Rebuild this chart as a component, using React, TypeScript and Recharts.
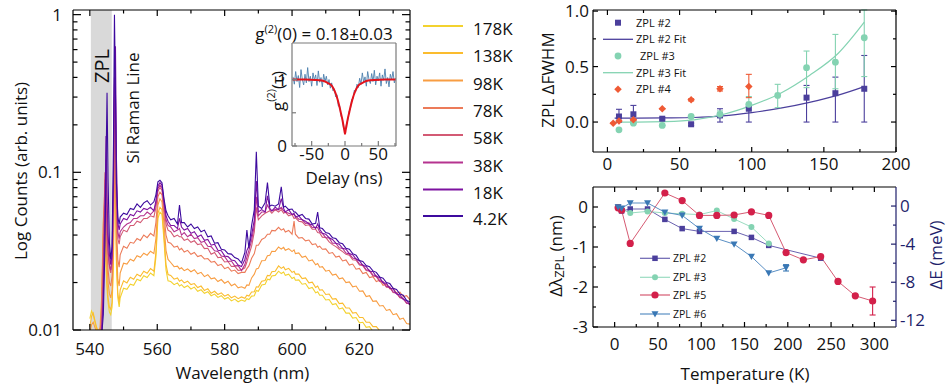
import React from "react";
import {
  ComposedChart,
  Line,
  XAxis,
  YAxis,
  ReferenceArea,
  Scatter,
  ErrorBar,
} from "recharts";

const FONT = '"Open Sans", "DejaVu Sans", Arial, sans-serif';

// ---------- left panel: PL spectra ----------
const WL = [
  540, 540.5, 541, 541.5, 542, 542.5, 543, 543.5, 544, 544.5, 544.8, 545.1, 545.4, 545.8, 546.2, 546.6, 547, 547.3, 547.6, 547.9, 548.3, 548.7,
  549, 550, 551, 552, 553, 554, 555, 556, 557, 558, 559,
  559.6, 560.2, 560.8, 561.4, 562, 562.6, 563.2,
  564, 565, 566, 566.6, 567.2,
  568, 569, 570, 571, 572, 573, 574, 575, 576, 577,
  578, 579, 580, 581, 582, 583, 584, 585, 586,
  586.6, 587.2, 588, 588.8, 589.4, 590, 591, 592, 592.7, 593.4,
  594, 595, 596, 596.8, 597.5, 598, 599, 600, 600.6,
  601, 602, 603, 604, 605, 606, 607, 607.6, 608.2,
  609, 610, 611, 612, 613, 614, 615, 616, 617, 618,
  619, 620, 621, 622, 623, 624, 625, 626, 627, 628,
  629, 630, 631, 632, 633, 634, 635,
];

const C4 = [
  0.0072, 0.0078, 0.0075, 0.0081, 0.0079, 0.0083, 0.0086, 0.0092, 0.0125, 0.035, 0.11, 0.32, 0.09, 0.036, 0.028, 0.034, 0.15, 1.0, 0.32, 0.085, 0.052, 0.047,
  0.052, 0.055, 0.054, 0.059, 0.058, 0.063, 0.06, 0.064, 0.066, 0.062, 0.065,
  0.072, 0.087, 0.089, 0.086, 0.068, 0.057, 0.053,
  0.05, 0.051, 0.047, 0.062, 0.048,
  0.048, 0.045, 0.047, 0.044, 0.045, 0.042, 0.043, 0.039, 0.0395, 0.0355,
  0.0358, 0.0325, 0.0322, 0.0305, 0.0303, 0.0288, 0.0282, 0.0266, 0.031,
  0.043, 0.033, 0.046, 0.058, 0.135, 0.061, 0.059, 0.064, 0.086, 0.061,
  0.062, 0.061, 0.063, 0.081, 0.06, 0.061, 0.058, 0.0585, 0.056,
  0.056, 0.053, 0.054, 0.051, 0.0505, 0.047, 0.0475, 0.056, 0.0445,
  0.044, 0.0415, 0.041, 0.0385, 0.038, 0.0358, 0.0352, 0.033, 0.0325, 0.0305,
  0.0298, 0.0276, 0.0272, 0.0256, 0.0252, 0.0237, 0.0232, 0.0217, 0.0213, 0.02,
  0.0197, 0.0184, 0.0181, 0.0169, 0.0166, 0.0154, 0.0151,
];

const C18 = [
  0.007, 0.0074, 0.0079, 0.0076, 0.0082, 0.008, 0.0088, 0.0095, 0.016, 0.06, 0.17, 0.07, 0.04, 0.03, 0.026, 0.03, 0.09, 0.35, 0.63, 0.12, 0.048, 0.043,
  0.047, 0.051, 0.05, 0.054, 0.053, 0.057, 0.056, 0.059, 0.058, 0.06, 0.057,
  0.066, 0.082, 0.086, 0.083, 0.066, 0.053, 0.049,
  0.046, 0.046, 0.044, 0.051, 0.045,
  0.043, 0.044, 0.041, 0.042, 0.039, 0.04, 0.037, 0.0375, 0.0345, 0.035,
  0.032, 0.0318, 0.0295, 0.0292, 0.0278, 0.0275, 0.0258, 0.0253, 0.028,
  0.032, 0.034, 0.04, 0.05, 0.088, 0.056, 0.058, 0.056, 0.071, 0.059,
  0.057, 0.06, 0.058, 0.068, 0.059, 0.056, 0.058, 0.054, 0.055,
  0.052, 0.053, 0.05, 0.049, 0.047, 0.0465, 0.044, 0.047, 0.0435,
  0.041, 0.0405, 0.0385, 0.0375, 0.0355, 0.035, 0.033, 0.0325, 0.0305, 0.03,
  0.0282, 0.0275, 0.0257, 0.0253, 0.0236, 0.0235, 0.0218, 0.0215, 0.0199, 0.0198,
  0.0184, 0.0182, 0.0169, 0.0167, 0.0156, 0.0154, 0.0144,
];

const C38 = [
  0.0068, 0.0073, 0.0071, 0.0077, 0.0075, 0.0081, 0.0085, 0.0093, 0.02, 0.07, 0.12, 0.05, 0.032, 0.026, 0.024, 0.028, 0.07, 0.4, 0.3, 0.07, 0.042, 0.038,
  0.042, 0.045, 0.047, 0.048, 0.051, 0.051, 0.053, 0.053, 0.056, 0.054, 0.057,
  0.063, 0.079, 0.083, 0.08, 0.063, 0.05, 0.046,
  0.045, 0.042, 0.043, 0.044, 0.04,
  0.0415, 0.039, 0.0405, 0.038, 0.0385, 0.036, 0.0365, 0.034, 0.0338, 0.0318,
  0.0315, 0.0295, 0.0292, 0.0272, 0.0274, 0.0255, 0.0256, 0.0238, 0.026,
  0.029, 0.032, 0.037, 0.046, 0.07, 0.053, 0.056, 0.056, 0.062, 0.058,
  0.057, 0.058, 0.058, 0.06, 0.057, 0.056, 0.055, 0.054, 0.054,
  0.053, 0.0505, 0.0502, 0.0475, 0.0478, 0.0445, 0.0448, 0.0445, 0.0418,
  0.041, 0.0385, 0.0384, 0.0355, 0.0355, 0.0332, 0.0329, 0.0308, 0.0304, 0.0286,
  0.0282, 0.0262, 0.0259, 0.0241, 0.0239, 0.0223, 0.0221, 0.0205, 0.0203, 0.0189,
  0.0188, 0.0174, 0.0172, 0.0161, 0.0159, 0.0148, 0.0146,
];

const C58 = [
  0.0069, 0.0071, 0.0076, 0.0074, 0.0078, 0.0082, 0.0088, 0.011, 0.03, 0.1, 0.07, 0.04, 0.03, 0.025, 0.023, 0.027, 0.06, 0.3, 0.22, 0.06, 0.038, 0.035,
  0.039, 0.043, 0.042, 0.046, 0.046, 0.049, 0.048, 0.051, 0.051, 0.053, 0.052,
  0.06, 0.076, 0.08, 0.077, 0.06, 0.047, 0.043,
  0.042, 0.039, 0.04, 0.039, 0.039,
  0.037, 0.0378, 0.036, 0.0368, 0.0348, 0.0352, 0.0328, 0.033, 0.0302, 0.031,
  0.0288, 0.0289, 0.027, 0.0272, 0.0253, 0.0254, 0.0239, 0.024, 0.0248,
  0.027, 0.03, 0.034, 0.042, 0.06, 0.05, 0.053, 0.055, 0.056, 0.057,
  0.055, 0.058, 0.056, 0.058, 0.055, 0.056, 0.053, 0.054, 0.051,
  0.0515, 0.049, 0.0485, 0.046, 0.0465, 0.0435, 0.0435, 0.0415, 0.0412,
  0.0388, 0.0386, 0.0362, 0.0348, 0.0338, 0.0325, 0.0314, 0.0302, 0.0298, 0.0279,
  0.0277, 0.0258, 0.0256, 0.0238, 0.0236, 0.022, 0.0218, 0.0203, 0.0201, 0.0187,
  0.0186, 0.0173, 0.0171, 0.016, 0.0158, 0.0148, 0.0146,
];

const C78 = [
  0.0082, 0.0088, 0.0086, 0.0083, 0.0079, 0.0084, 0.009, 0.014, 0.045, 0.09, 0.05, 0.03, 0.024, 0.02, 0.019, 0.022, 0.05, 0.2, 0.15, 0.045, 0.028, 0.025,
  0.03, 0.034, 0.033, 0.036, 0.0355, 0.038, 0.037, 0.04, 0.0385, 0.041, 0.0395,
  0.048, 0.07, 0.075, 0.072, 0.054, 0.04, 0.036,
  0.0355, 0.0335, 0.034, 0.0322, 0.033,
  0.0312, 0.032, 0.0302, 0.031, 0.0292, 0.0297, 0.0282, 0.0284, 0.0269, 0.0272,
  0.0256, 0.0261, 0.0245, 0.025, 0.0236, 0.024, 0.0228, 0.0232, 0.0232,
  0.0245, 0.0255, 0.0285, 0.0305, 0.0345, 0.0345, 0.0375, 0.0385, 0.0405, 0.0405,
  0.0428, 0.0425, 0.0448, 0.043, 0.0438, 0.0418, 0.0428, 0.0405, 0.049,
  0.0405, 0.0383, 0.0386, 0.0368, 0.0372, 0.0348, 0.0352, 0.0335, 0.034,
  0.0325, 0.0327, 0.0306, 0.031, 0.029, 0.0294, 0.0274, 0.0278, 0.0258, 0.0262,
  0.0243, 0.0246, 0.0228, 0.0232, 0.0215, 0.0218, 0.0203, 0.0207, 0.0192, 0.0196,
  0.0182, 0.0184, 0.0171, 0.0174, 0.0163, 0.0165, 0.0155,
];

const C98 = [
  0.0095, 0.0108, 0.0112, 0.0104, 0.0097, 0.0099, 0.0103, 0.016, 0.05, 0.07, 0.04, 0.026, 0.02, 0.017, 0.016, 0.018, 0.04, 0.15, 0.11, 0.035, 0.021, 0.019,
  0.023, 0.0265, 0.0262, 0.0281, 0.0274, 0.0296, 0.0289, 0.0307, 0.0298, 0.0316, 0.0305,
  0.038, 0.062, 0.068, 0.065, 0.047, 0.032, 0.028,
  0.0268, 0.0252, 0.0254, 0.0244, 0.0248,
  0.0238, 0.0244, 0.0234, 0.0241, 0.0227, 0.0232, 0.0218, 0.0224, 0.0211, 0.0214,
  0.0203, 0.0209, 0.0198, 0.0204, 0.0191, 0.0196, 0.0185, 0.0188, 0.0184,
  0.0193, 0.0192, 0.0214, 0.0226, 0.0244, 0.0246, 0.0275, 0.0276, 0.0296, 0.0298,
  0.0316, 0.0315, 0.0336, 0.0326, 0.0334, 0.032, 0.0328, 0.0314, 0.0322,
  0.0305, 0.0308, 0.0289, 0.0294, 0.0274, 0.0278, 0.0259, 0.0264, 0.025,
  0.0252, 0.0236, 0.0239, 0.0223, 0.0226, 0.0211, 0.0214, 0.02, 0.0202, 0.0188,
  0.019, 0.0176, 0.0177, 0.0163, 0.0165, 0.0152, 0.0153, 0.0142, 0.0143, 0.0133,
  0.0135, 0.0125, 0.0127, 0.0117, 0.0119, 0.011, 0.0109,
];

const C138 = [
  0.0105, 0.0122, 0.0128, 0.0115, 0.0104, 0.0098, 0.0096, 0.013, 0.04, 0.05, 0.03, 0.02, 0.016, 0.014, 0.0135, 0.015, 0.03, 0.12, 0.09, 0.028, 0.017, 0.015,
  0.018, 0.0205, 0.0199, 0.0216, 0.021, 0.0226, 0.0219, 0.0236, 0.0229, 0.0245, 0.0236,
  0.031, 0.055, 0.06, 0.058, 0.04, 0.026, 0.0225,
  0.0222, 0.021, 0.0214, 0.0204, 0.0208,
  0.0199, 0.0204, 0.0194, 0.0197, 0.0186, 0.019, 0.0178, 0.0183, 0.0171, 0.0176,
  0.0168, 0.0172, 0.0164, 0.0168, 0.016, 0.0164, 0.0158, 0.0162, 0.0159,
  0.0166, 0.0164, 0.0174, 0.0175, 0.0188, 0.0187, 0.0204, 0.0206, 0.0222, 0.0221,
  0.0234, 0.0236, 0.0255, 0.0246, 0.0252, 0.0241, 0.0246, 0.0232, 0.0236,
  0.0226, 0.0226, 0.0212, 0.0214, 0.0199, 0.0201, 0.0186, 0.019, 0.0179,
  0.018, 0.0168, 0.0169, 0.0157, 0.0158, 0.0147, 0.0148, 0.0138, 0.0138, 0.0128,
  0.0129, 0.012, 0.012, 0.0112, 0.0112, 0.0105, 0.0105, 0.0099, 0.0098, 0.0093,
  0.0092, 0.0087, 0.0087, 0.0083, 0.0082, 0.0079, 0.0078,
];

const C178 = [
  0.0118, 0.0132, 0.0125, 0.0112, 0.0101, 0.0094, 0.0091, 0.011, 0.032, 0.04, 0.025, 0.018, 0.015, 0.013, 0.0125, 0.014, 0.026, 0.1, 0.08, 0.025, 0.016, 0.014,
  0.016, 0.0184, 0.0181, 0.0195, 0.0192, 0.021, 0.0205, 0.0221, 0.0215, 0.023, 0.0221,
  0.029, 0.051, 0.056, 0.054, 0.037, 0.024, 0.0205,
  0.0203, 0.0194, 0.0199, 0.019, 0.0194,
  0.0186, 0.0191, 0.0182, 0.0187, 0.0176, 0.018, 0.0171, 0.0175, 0.0165, 0.0169,
  0.0161, 0.0165, 0.0157, 0.0161, 0.0153, 0.0157, 0.0151, 0.0155, 0.0152,
  0.0158, 0.0156, 0.0164, 0.0165, 0.0178, 0.0176, 0.0193, 0.0195, 0.021, 0.0208,
  0.022, 0.0222, 0.0236, 0.0228, 0.0233, 0.0222, 0.0226, 0.0212, 0.0216,
  0.0207, 0.0208, 0.0195, 0.0197, 0.0183, 0.0186, 0.0172, 0.0175, 0.0166,
  0.0166, 0.0155, 0.0156, 0.0145, 0.0147, 0.0136, 0.0138, 0.0128, 0.0128, 0.0119,
  0.012, 0.0111, 0.0112, 0.0104, 0.0105, 0.0098, 0.0098, 0.0092, 0.0093, 0.0087,
  0.0088, 0.0083, 0.0083, 0.0079, 0.0079, 0.0075, 0.0075,
];

const SERIES = [
  { key: "k178", name: "178K", color: "#f3d22f", values: C178 },
  { key: "k138", name: "138K", color: "#fbbc2e", values: C138 },
  { key: "k98", name: "98K", color: "#f89d42", values: C98 },
  { key: "k78", name: "78K", color: "#ec7b59", values: C78 },
  { key: "k58", name: "58K", color: "#d35a74", values: C58 },
  { key: "k38", name: "38K", color: "#b5338f", values: C38 },
  { key: "k18", name: "18K", color: "#7d12a0", values: C18 },
  { key: "k4", name: "4.2K", color: "#3d0a9e", values: C4 },
];

const specRows = WL.map((w, i) => {
  const row: any = { wl: w };
  SERIES.forEach((s) => (row[s.key] = s.values[i]));
  return row;
});

const WL_TICKS = [540, 550, 560, 570, 580, 590, 600, 610, 620, 630];
const WL_LABELS = [540, 560, 580, 600, 620];
const LOG_TICKS = [0.01, 0.02, 0.03, 0.04, 0.05, 0.06, 0.07, 0.08, 0.09, 0.1, 0.2, 0.3, 0.4, 0.5, 0.6, 0.7, 0.8, 0.9, 1];
const LOG_LABELS = [0.01, 0.1, 1];

// ---------- inset: g2 ----------
const DELAY = [
  -78, -76, -74, -72, -70, -68, -66, -64, -62, -60,
  -58, -56, -54, -52, -50, -48, -46, -44, -42, -40,
  -38, -36, -34, -32, -30, -28, -26, -24, -22, -20,
  -18, -16, -14, -12, -10, -8, -6, -4, -2, 0,
  2, 4, 6, 8, 10, 12, 14, 16, 18, 20,
  22, 24, 26, 28, 30, 32, 34, 36, 38, 40,
  42, 44, 46, 48, 50, 52, 54, 56, 58, 60,
  62, 64, 66, 68, 70, 72, 74, 76,
];
const G2 = [
  1.04, 0.93, 1.12, 0.97, 1.06, 0.88, 1.15, 1.0, 0.92, 1.08,
  0.95, 1.18, 0.97, 1.05, 0.9, 1.1, 0.99, 1.07, 0.91, 1.13,
  0.96, 1.03, 0.89, 1.08, 0.97, 1.05, 0.92, 1.0, 0.87, 0.95,
  0.83, 0.86, 0.74, 0.77, 0.6, 0.6, 0.45, 0.41, 0.27, 0.2,
  0.32, 0.38, 0.52, 0.55, 0.7, 0.71, 0.84, 0.82, 0.93, 0.88,
  1.02, 0.93, 1.1, 0.96, 1.04, 0.9, 1.12, 1.0, 0.94, 1.09,
  0.97, 1.14, 0.92, 1.05, 0.98, 1.1, 0.9, 1.07, 0.99, 1.16,
  0.94, 1.03, 0.89, 1.08, 1.0, 1.12, 0.95, 1.02,
];
const FIT_T = [-79, -60, -45, -35, -28, -24, -20, -17, -14, -12, -10, -8, -6, -4, -2, -1, 0, 1, 2, 4, 6, 8, 10, 12, 14, 17, 20, 24, 28, 35, 45, 60, 76];
const FIT_G = [1.0, 1.0, 0.995, 0.985, 0.96, 0.94, 0.91, 0.86, 0.79, 0.73, 0.66, 0.58, 0.49, 0.4, 0.29, 0.24, 0.18, 0.24, 0.29, 0.4, 0.49, 0.58, 0.66, 0.73, 0.79, 0.86, 0.91, 0.94, 0.96, 0.985, 0.995, 1.0, 1.0];

const g2Rows = DELAY.map((x, i) => ({ x, y: G2[i] }));
const fitRows = FIT_T.map((x, i) => ({ x, y: FIT_G[i] }));

// ---------- top right: FWHM ----------
const T_FW2 = [8, 18, 38, 58, 78, 98, 138, 158, 178];
const FW2 = [0.05, 0.07, 0.03, -0.02, 0.06, 0.12, 0.22, 0.26, 0.3];
const FW2_ERR = [[0.05, 0.065], [0.06, 0.08], [0.01, 0.01], [0.01, 0.01], [0.06, 0.06], [0.12, 0.02], [0.22, 0.11], [0.26, 0.145], [0.3, 0.3]];
const T_FW3 = [8, 18, 38, 58, 78, 98, 118, 138, 158, 178];
const FW3 = [-0.07, -0.01, -0.03, 0.05, 0.07, 0.16, 0.24, 0.49, 0.54, 0.76];
const FW3_ERR = [[0, 0], [0, 0], [0, 0], [0.01, 0.01], [0.03, 0.03], [0.05, 0.07], [0.11, 0.1], [0.18, 0.15], [0.24, 0.25], [0.35, 0.25]];
const T_FW4 = [4, 8, 18, 38, 58, 78, 98];
const FW4 = [-0.01, 0.01, 0.02, 0.12, 0.2, 0.3, 0.32];
const FW4_ERR = [[0, 0], [0, 0], [0, 0], [0, 0], [0.01, 0.01], [0.02, 0.02], [0.1, 0.11]];
const T_FIT = [5, 20, 40, 60, 80, 100, 120, 140, 160, 178];
const FIT2 = [0.035, 0.035, 0.037, 0.041, 0.055, 0.085, 0.125, 0.178, 0.243, 0.32];
const FIT3 = [0.0, 0.0, 0.004, 0.02, 0.068, 0.15, 0.26, 0.42, 0.62, 0.9];

const FW_XT = [0, 25, 50, 75, 100, 125, 150, 175, 200];
const FW_XL = [0, 50, 100, 150, 200];
const FW_YT = [0, 0.25, 0.5, 0.75, 1];
const FW_YL = [0, 0.5, 1];

// ---------- bottom right: shift ----------
const T_Z2 = [4, 8, 18, 38, 58, 78, 98, 138, 158, 178, 238];
const DL_Z2 = [0, -0.1, -0.05, -0.05, -0.31, -0.54, -0.61, -0.61, -0.76, -0.96, -1.28];
const T_Z3 = [4, 8, 18, 38, 58, 78, 98, 118, 138, 158, 178];
const DL_Z3 = [-0.02, -0.06, -0.15, -0.11, -0.15, -0.17, -0.19, -0.09, -0.3, -0.5, -0.91];
const T_Z5 = [4, 8, 18, 58, 78, 98, 118, 138, 158, 178, 198, 218, 238, 258, 278, 298];
const DL_Z5 = [-0.02, -0.08, -0.91, 0.35, 0.16, -0.21, -0.21, -0.2, -0.12, -0.21, -1.14, -1.32, -1.24, -1.86, -2.22, -2.35];
const ERR_Z5 = [0, 0, 0, 0, 0, 0, 0, 0, 0, 0, 0, 0, 0, 0, 0, 0.35];
const T_Z6 = [4, 8, 18, 38, 58, 78, 98, 118, 138, 158, 178, 198];
const DL_Z6 = [0, -0.03, 0.1, 0.1, -0.13, -0.21, -0.54, -0.79, -0.93, -1.24, -1.65, -1.52];
const ERR_Z6 = [0, 0, 0, 0, 0, 0, 0, 0, 0, 0, 0, 0.08];

const SH_XT = [0, 25, 50, 75, 100, 125, 150, 175, 200, 225, 250, 275, 300];
const SH_XL = [0, 50, 100, 150, 200, 250, 300];
const SH_YT = [-3, -2.5, -2, -1.5, -1, -0.5, 0];
const SH_YL = [-3, -2, -1, 0];
const SH_ET = [-12, -10, -8, -6, -4, -2, 0];
const SH_EL = [-12, -8, -4, 0];

const NAVY = "#1f1f6b";

// ---------- helpers ----------
type TickCfg = {
  side: "bottom" | "top" | "left" | "right";
  majors?: number[];
  labels?: number[];
  fmt?: (v: number) => string;
  len?: number;
  minor?: number;
  color?: string;
  textColor?: string;
  size?: number;
  gap?: number;
};

// axes get 1px of room (recharts skips an axis of size 0), the ticks are drawn inward by hand
const tk = (c: TickCfg) => {
  const render = (p: any) => {
    const { x, y, payload } = p;
    const v = payload.value;
    const isMajor = c.majors ? c.majors.includes(v) : true;
    const L = isMajor ? c.len ?? 6 : c.minor ?? 3;
    const col = c.color ?? "#000";
    const fs = c.size ?? 17;
    const gap = c.gap ?? 6;
    const showText = c.labels ? c.labels.includes(v) : false;
    const txt = c.fmt ? c.fmt(v) : String(v);
    let x2 = x;
    let y2 = y;
    if (c.side === "bottom") y2 = y - L;
    if (c.side === "top") y2 = y + L;
    if (c.side === "left") x2 = x + L;
    if (c.side === "right") x2 = x - L;
    let t = null;
    const tp = { fontFamily: FONT, fontSize: fs, fill: c.textColor ?? "#111" };
    if (showText && c.side === "bottom")
      t = (
        <text x={x} y={y + gap + fs * 0.72} textAnchor="middle" {...tp}>
          {txt}
        </text>
      );
    if (showText && c.side === "left")
      t = (
        <text x={x - gap} y={y + fs * 0.36} textAnchor="end" {...tp}>
          {txt}
        </text>
      );
    if (showText && c.side === "right")
      t = (
        <text x={x + gap} y={y + fs * 0.36} textAnchor="start" {...tp}>
          {txt}
        </text>
      );
    return (
      <g>
        <line x1={x} y1={y} x2={x2} y2={y2} stroke={col} strokeWidth={1.2} />
        {t}
      </g>
    );
  };
  return { tick: render, tickLine: false, tickSize: 0, tickMargin: 0, interval: 0 as const };
};

const AX = { stroke: "#000", strokeWidth: 1.2 };
const GRAY_AX = { stroke: "#7a7a7a", strokeWidth: 1.2 };

const square = (cx: number, cy: number, s: number, fill: string) => (
  <rect x={cx - s / 2} y={cy - s / 2} width={s} height={s} fill={fill} />
);
const circle = (cx: number, cy: number, r: number, fill: string) => <circle cx={cx} cy={cy} r={r} fill={fill} />;
const diamond = (cx: number, cy: number, s: number, fill: string) => (
  <polygon points={`${cx},${cy - s / 2} ${cx + s / 2},${cy} ${cx},${cy + s / 2} ${cx - s / 2},${cy}`} fill={fill} />
);
const triDown = (cx: number, cy: number, s: number, fill: string) => (
  <polygon points={`${cx - s / 2},${cy - s * 0.4} ${cx + s / 2},${cy - s * 0.4} ${cx},${cy + s * 0.5}`} fill={fill} />
);

const C_Z2 = "#4b3f9c";
const C_Z3 = "#84d3b2";
const C_Z4 = "#ef5a35";
const C_Z5 = "#d3204a";
const C_Z6 = "#3a78b5";

function SpectraChart() {
  const logFmt = (v: number) => (v === 1 ? "1" : String(v));
  return (
    <ComposedChart width={420} height={391} data={specRows} margin={{ top: 9, right: 9, bottom: 60, left: 72 }}>
      <XAxis xAxisId="b" dataKey="wl" type="number" domain={[535, 635]} allowDataOverflow ticks={WL_TICKS} height={1} axisLine={AX}
        {...tk({ side: "bottom", majors: WL_LABELS, labels: WL_LABELS, len: 6, minor: 3.5, gap: 13 })} />
      <XAxis xAxisId="t" orientation="top" dataKey="wl" type="number" domain={[535, 635]} allowDataOverflow ticks={WL_TICKS} height={1} axisLine={AX}
        {...tk({ side: "top", majors: WL_LABELS, len: 6, minor: 3.5 })} />
      <YAxis yAxisId="l" type="number" scale="log" domain={[0.01, 1.07]} allowDataOverflow ticks={LOG_TICKS} width={1} axisLine={AX}
        {...tk({ side: "left", majors: LOG_LABELS, labels: LOG_LABELS, fmt: logFmt, len: 8, minor: 4.5, gap: 11 })} />
      <YAxis yAxisId="r" orientation="right" type="number" scale="log" domain={[0.01, 1.07]} allowDataOverflow ticks={LOG_TICKS} width={1} axisLine={AX}
        {...tk({ side: "right", majors: LOG_LABELS, len: 8, minor: 4.5 })} />
      <ReferenceArea xAxisId="b" yAxisId="l" x1={540.3} x2={546.5} y1={0.01} y2={1.07} fill="#d9d9d9" fillOpacity={1} stroke="none" />
      {SERIES.map((s) => (
        <Line key={s.key} xAxisId="b" yAxisId="l" dataKey={s.key} type="linear" stroke={s.color} strokeWidth={1.1} dot={false} isAnimationActive={false} />
      ))}
    </ComposedChart>
  );
}

function InsetChart() {
  return (
    <ComposedChart width={180} height={200} margin={{ top: 42, right: 13, bottom: 53, left: 61 }}>
      <XAxis xAxisId="b" dataKey="x" type="number" domain={[-79.5, 76.5]} allowDataOverflow ticks={[-75, -50, -25, 0, 25, 50, 75]} height={1} axisLine={GRAY_AX}
        {...tk({ side: "bottom", majors: [-50, 0, 50], labels: [-50, 0, 50], len: 5, minor: 3, color: "#7a7a7a", gap: 2 })} />
      <XAxis xAxisId="t" orientation="top" dataKey="x" type="number" domain={[-79.5, 76.5]} allowDataOverflow height={1} axisLine={GRAY_AX} tick={false} tickLine={false} />
      <YAxis yAxisId="l" type="number" domain={[0, 1.55]} allowDataOverflow ticks={[0, 0.5, 1]} width={1} axisLine={GRAY_AX}
        {...tk({ side: "left", majors: [0, 1], labels: [0, 1], len: 5, minor: 4, color: "#7a7a7a", gap: 5 })} />
      <YAxis yAxisId="r" orientation="right" type="number" domain={[0, 1.55]} allowDataOverflow width={1} axisLine={GRAY_AX} tick={false} tickLine={false} />
      <Line xAxisId="b" yAxisId="l" data={g2Rows} dataKey="y" type="linear" stroke="#4d80ae" strokeWidth={0.9} dot={false} isAnimationActive={false} />
      <Line xAxisId="b" yAxisId="l" data={fitRows} dataKey="y" type="monotone" stroke="#e3121b" strokeWidth={2} dot={false} isAnimationActive={false} />
    </ComposedChart>
  );
}

function FwhmChart() {
  const d2 = T_FW2.map((x, i) => ({ x, y: FW2[i], err: FW2_ERR[i] }));
  const d3 = T_FW3.map((x, i) => ({ x, y: FW3[i], err: FW3_ERR[i] }));
  const d4 = T_FW4.map((x, i) => ({ x, y: FW4[i], err: FW4_ERR[i] }));
  const f2 = T_FIT.map((x, i) => ({ x, y: FIT2[i] }));
  const f3 = T_FIT.map((x, i) => ({ x, y: FIT3[i] }));
  return (
    <ComposedChart width={428} height={190} margin={{ top: 9, right: 51, bottom: 37, left: 72 }}>
      <XAxis xAxisId="b" dataKey="x" type="number" domain={[-10, 200]} allowDataOverflow ticks={FW_XT} height={1} axisLine={AX}
        {...tk({ side: "bottom", majors: FW_XL, labels: FW_XL, len: 5, minor: 3, gap: 5.8 })} />
      <XAxis xAxisId="t" orientation="top" dataKey="x" type="number" domain={[-10, 200]} allowDataOverflow ticks={FW_XT} height={1} axisLine={AX}
        {...tk({ side: "top", majors: FW_XL, len: 5, minor: 3 })} />
      <YAxis yAxisId="l" type="number" domain={[-0.27, 1.01]} allowDataOverflow ticks={FW_YT} width={1} axisLine={AX}
        {...tk({ side: "left", majors: FW_YL, labels: FW_YL, fmt: (v) => v.toFixed(1), len: 5, minor: 3, gap: 4 })} />
      <YAxis yAxisId="r" orientation="right" type="number" domain={[-0.27, 1.01]} allowDataOverflow ticks={FW_YT} width={1} axisLine={AX}
        {...tk({ side: "right", majors: FW_YL, len: 5, minor: 3 })} />
      <Line xAxisId="b" yAxisId="l" data={f2} dataKey="y" type="monotone" stroke={C_Z2} strokeWidth={1.2} dot={false} isAnimationActive={false} />
      <Line xAxisId="b" yAxisId="l" data={f3} dataKey="y" type="monotone" stroke={C_Z3} strokeWidth={1.2} dot={false} isAnimationActive={false} />
      <Scatter xAxisId="b" yAxisId="l" data={d2} dataKey="y" isAnimationActive={false} shape={(p: any) => square(p.cx, p.cy, 6, C_Z2)}>
        <ErrorBar dataKey="err" direction="y" stroke={C_Z2} strokeWidth={1.1} width={3} />
      </Scatter>
      <Scatter xAxisId="b" yAxisId="l" data={d3} dataKey="y" isAnimationActive={false} shape={(p: any) => circle(p.cx, p.cy, 3.4, C_Z3)}>
        <ErrorBar dataKey="err" direction="y" stroke={C_Z3} strokeWidth={1.1} width={3} />
      </Scatter>
      <Scatter xAxisId="b" yAxisId="l" data={d4} dataKey="y" isAnimationActive={false} shape={(p: any) => diamond(p.cx, p.cy, 7.5, C_Z4)}>
        <ErrorBar dataKey="err" direction="y" stroke={C_Z4} strokeWidth={1.1} width={3} />
      </Scatter>
    </ComposedChart>
  );
}

function ShiftChart() {
  const z2 = T_Z2.map((x, i) => ({ x, y: DL_Z2[i] }));
  const z3 = T_Z3.map((x, i) => ({ x, y: DL_Z3[i] }));
  const z5 = T_Z5.map((x, i) => ({ x, y: DL_Z5[i], err: ERR_Z5[i] }));
  const z6 = T_Z6.map((x, i) => ({ x, y: DL_Z6[i], err: ERR_Z6[i] }));
  return (
    <ComposedChart width={428} height={211} margin={{ top: 6, right: 51, bottom: 63, left: 72 }}>
      <XAxis xAxisId="b" dataKey="x" type="number" domain={[-25, 325]} allowDataOverflow ticks={SH_XT} height={1} axisLine={AX}
        {...tk({ side: "bottom", majors: SH_XL, labels: SH_XL, len: 5, minor: 3, gap: 10.8 })} />
      <XAxis xAxisId="t" orientation="top" dataKey="x" type="number" domain={[-25, 325]} allowDataOverflow ticks={SH_XT} height={1} axisLine={AX}
        {...tk({ side: "top", majors: SH_XL, len: 5, minor: 3 })} />
      <YAxis yAxisId="l" type="number" domain={[-3, 0.5]} allowDataOverflow ticks={SH_YT} width={1} axisLine={AX}
        {...tk({ side: "left", majors: SH_YL, labels: SH_YL, len: 5, minor: 3, gap: 5 })} />
      <YAxis yAxisId="r" orientation="right" type="number" domain={[-12.7, 2]} allowDataOverflow ticks={SH_ET} width={1}
        axisLine={{ stroke: NAVY, strokeWidth: 1.2 }}
        {...tk({ side: "right", majors: SH_EL, labels: SH_EL, len: 5, minor: 3, gap: 4, color: NAVY, textColor: NAVY })} />
      <Line xAxisId="b" yAxisId="l" data={z2} dataKey="y" type="linear" stroke="#6a62b0" strokeWidth={1} isAnimationActive={false}
        dot={(p: any) => <g key={`a${p.index}`}>{square(p.cx, p.cy, 5.5, C_Z2)}</g>} />
      <Line xAxisId="b" yAxisId="l" data={z3} dataKey="y" type="linear" stroke="#9adcc1" strokeWidth={1} isAnimationActive={false}
        dot={(p: any) => <g key={`b${p.index}`}>{circle(p.cx, p.cy, 3, C_Z3)}</g>} />
      <Line xAxisId="b" yAxisId="l" data={z5} dataKey="y" type="linear" stroke="#d65a72" strokeWidth={1} isAnimationActive={false}
        dot={(p: any) => <g key={`c${p.index}`}>{circle(p.cx, p.cy, 3.6, C_Z5)}</g>}>
        <ErrorBar dataKey="err" direction="y" stroke={C_Z5} strokeWidth={1.1} width={3} />
      </Line>
      <Line xAxisId="b" yAxisId="l" data={z6} dataKey="y" type="linear" stroke="#5a8fc4" strokeWidth={1} isAnimationActive={false}
        dot={(p: any) => <g key={`d${p.index}`}>{triDown(p.cx, p.cy, 7, C_Z6)}</g>}>
        <ErrorBar dataKey="err" direction="y" stroke={C_Z6} strokeWidth={1.1} width={3} />
      </Line>
    </ComposedChart>
  );
}

function Overlay() {
  const t = { fontFamily: FONT, fill: "#111" };
  const rows = [26, 53, 80.5, 108, 135, 162.5, 189.5, 216];
  return (
    <svg width={948} height={391} style={{ position: "absolute", left: 0, top: 0, pointerEvents: "none" }}>
      {/* left panel titles */}
      <text {...t} fontSize={17} x={20} y={171} textAnchor="middle" dominantBaseline="central" transform="rotate(-90 20 171)">
        Log Counts (arb. units)
      </text>
      <text {...t} fontSize={17} x={242.5} y={379} textAnchor="middle">Wavelength (nm)</text>
      <text {...t} fontSize={20} x={101.5} y={66} textAnchor="middle" dominantBaseline="central" transform="rotate(-90 101.5 66)">ZPL</text>
      <text {...t} fontSize={17} x={132} y={108} textAnchor="middle" dominantBaseline="central" transform="rotate(-90 132 108)">
        Si Raman Line
      </text>
      {/* inset titles */}
      <text {...t} fontSize={17} x={324} y={39.5} textAnchor="middle">
        g<tspan fontSize={11} dy={-7}>(2)</tspan>
        <tspan dy={7}>(0) = 0.18±0.03</tspan>
      </text>
      <text {...t} fontSize={17} x={277} y={91} textAnchor="middle" dominantBaseline="central" transform="rotate(-90 277 91)">
        g<tspan fontSize={11} dy={-7}>(2)</tspan>
        <tspan dy={7}>(τ)</tspan>
      </text>
      <text {...t} fontSize={17} x={344} y={183.5} textAnchor="middle">Delay (ns)</text>
      {/* left legend, 178K at the top */}
      {SERIES.map((s, i) => (
        <g key={s.key}>
          <line x1={423} x2={463} y1={rows[i]} y2={rows[i]} stroke={s.color} strokeWidth={2} />
          <text {...t} fontSize={17} x={473} y={rows[i] + 9}>{s.name}</text>
        </g>
      ))}
      {/* top right */}
      <text {...t} fontSize={17} x={547} y={80} textAnchor="middle" dominantBaseline="central" transform="rotate(-90 547 80)">
        ZPL ΔFWHM
      </text>
      {square(618, 22.7, 6, C_Z2)}
      <text {...t} fontSize={11} x={636} y={26.5}>ZPL #2</text>
      <line x1={603} x2={633} y1={39.3} y2={39.3} stroke={C_Z2} strokeWidth={1.3} />
      <text {...t} fontSize={11} x={636} y={43.1}>ZPL #2 Fit</text>
      {circle(618, 56, 3.4, C_Z3)}
      <text {...t} fontSize={11} x={640} y={59.8}>ZPL #3</text>
      <line x1={603} x2={633} y1={72.7} y2={72.7} stroke={C_Z3} strokeWidth={1.3} />
      <text {...t} fontSize={11} x={636} y={76.5}>ZPL #3 Fit</text>
      {diamond(618, 89.3, 7.5, C_Z4)}
      <text {...t} fontSize={11} x={636} y={93.1}>ZPL #4</text>
      {/* bottom right */}
      <text {...t} fontSize={17} x={745} y={380} textAnchor="middle">Temperature (K)</text>
      <text {...t} fontSize={17} x={555} y={256} textAnchor="middle" dominantBaseline="central" transform="rotate(-90 555 256)">
        Δλ<tspan fontSize={13} dy={4}>ZPL</tspan>
        <tspan dy={-4}> (nm)</tspan>
      </text>
      <text fontFamily={FONT} fill={NAVY} fontSize={17} x={935} y={255} textAnchor="middle" dominantBaseline="central" transform="rotate(-90 935 255)">
        ΔE (meV)
      </text>
      {[
        { y: 258.3, c: "#6a62b0", m: square(655, 258.3, 5.5, C_Z2), n: "ZPL #2" },
        { y: 277.3, c: "#9adcc1", m: circle(655, 277.3, 3, C_Z3), n: "ZPL #3" },
        { y: 295, c: "#d65a72", m: circle(655, 295, 3.6, C_Z5), n: "ZPL #5" },
        { y: 314, c: "#5a8fc4", m: triDown(655, 314, 7, C_Z6), n: "ZPL #6" },
      ].map((r) => (
        <g key={r.n}>
          <line x1={640} x2={670} y1={r.y} y2={r.y} stroke={r.c} strokeWidth={1.2} />
          {r.m}
          <text {...t} fontSize={10.5} x={673} y={r.y + 3.7}>{r.n}</text>
        </g>
      ))}
    </svg>
  );
}

export default function App() {
  return (
    <div style={{ position: "absolute", left: 0, top: 0, width: 948, height: 391, background: "#fff", overflow: "hidden", fontFamily: FONT }}>
      <div style={{ position: "absolute", left: 0, top: 0 }}>
        <SpectraChart />
      </div>
      <div style={{ position: "absolute", left: 230, top: 0 }}>
        <InsetChart />
      </div>
      <div style={{ position: "absolute", left: 520, top: 0 }}>
        <FwhmChart />
      </div>
      <div style={{ position: "absolute", left: 520, top: 180 }}>
        <ShiftChart />
      </div>
      <Overlay />
    </div>
  );
}
